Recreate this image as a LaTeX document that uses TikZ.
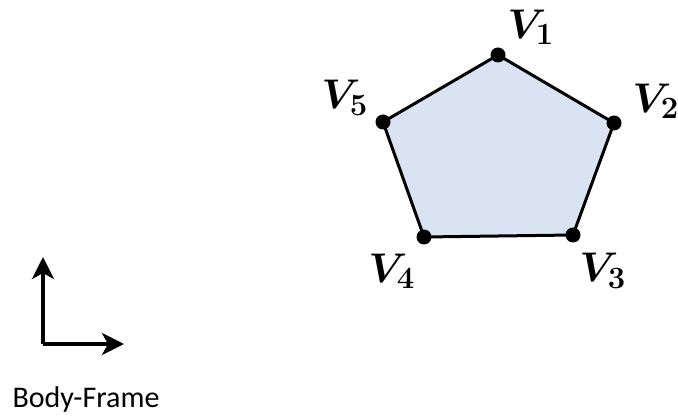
\documentclass[tikz,border=0pt]{standalone}
\usepackage{bm}
\usepackage{fontspec}
\newfontfamily\carlito{Carlito}
\usetikzlibrary{arrows.meta}
\definecolor{polyfill}{RGB}{218,227,242}
\newcommand\vlab[1]{$\bm{V}_{\hbox{\fontsize{15.5}{18}\selectfont\bfseries #1}}$}
\tikzset{
  vtx/.style={circle,fill=black,inner sep=0pt,minimum size=7.5pt},
  vlabel/.style={inner sep=0pt,font=\fontsize{21}{24}\selectfont},
  axis/.style={line width=1.8pt,-{Stealth[length=11pt,width=11pt,inset=3pt]}}
}
\begin{document}
\begin{tikzpicture}[x=0.5pt,y=-0.5pt]
\useasboundingbox (0,0) rectangle (678,416);
\coordinate (p1) at (498,55);
\coordinate (p2) at (614,123);
\coordinate (p3) at (573,235);
\coordinate (p4) at (424,237);
\coordinate (p5) at (383,122);
\filldraw[fill=polyfill,draw=black,line width=1.5pt,line join=round] (p1) -- (p2) -- (p3) -- (p4) -- (p5) -- cycle;
\node[vtx] (v1) at (p1) {};
\node[vtx] (v2) at (p2) {};
\node[vtx] (v3) at (p3) {};
\node[vtx] (v4) at (p4) {};
\node[vtx] (v5) at (p5) {};
\node[vlabel] (l1) at (531,27) {\vlab{1}};
\node[vlabel] (l2) at (656,101) {\vlab{2}};
\node[vlabel] (l3) at (603,271) {\vlab{3}};
\node[vlabel] (l4) at (392,271) {\vlab{4}};
\node[vlabel] (l5) at (345,98) {\vlab{5}};
\coordinate (o) at (43,344);
\coordinate (ay) at (43,257);
\coordinate (ax) at (124,344);
\draw[axis] (o) -- (ay);
\draw[axis] (o) -- (ax);
\node[inner sep=0pt,font=\carlito\fontsize{15}{18}\selectfont] (bf) at (86,399) {Body-Frame};
\end{tikzpicture}
\end{document}
